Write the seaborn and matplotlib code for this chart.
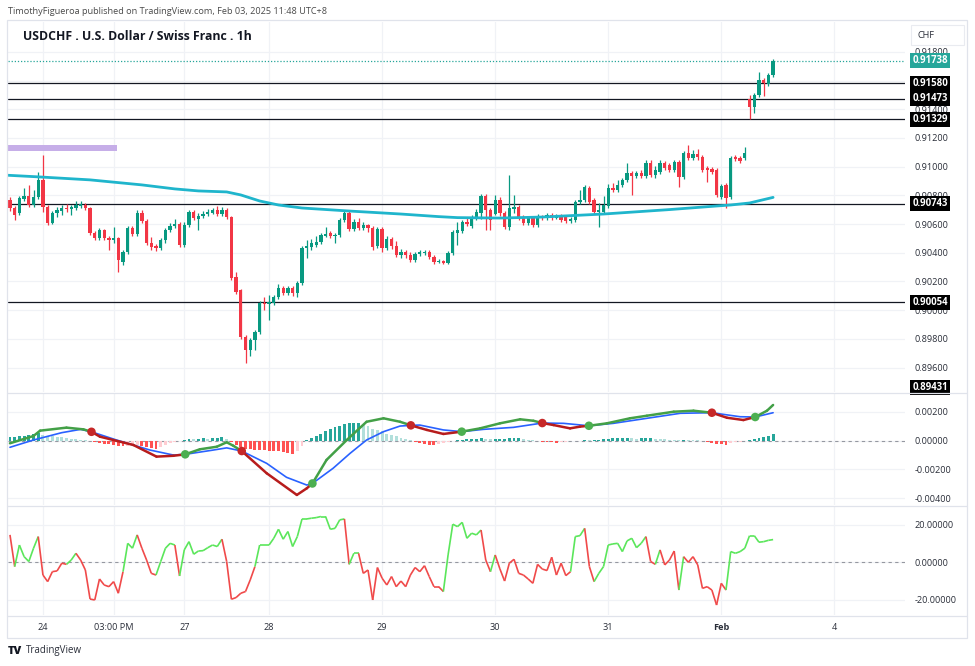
import matplotlib
matplotlib.use("Agg")
import matplotlib.pyplot as plt
from matplotlib.collections import LineCollection
from matplotlib.patches import Rectangle
from matplotlib.lines import Line2D
import numpy as np
import seaborn as sns

sns.set_theme(style="white")
plt.rcParams["font.family"] = ["Open Sans", "DejaVu Sans"]

# ---------------- data (1h bars) ----------------
opens = [
    0.90768, 0.90712, 0.90677, 0.90775, 0.90796, 0.90733, 0.90789, 0.90908, 0.90719, 0.90607,
    0.90677, 0.90691, 0.90712, 0.90705, 0.90712, 0.90726, 0.90733, 0.90712, 0.90537, 0.90502,
    0.90558, 0.90502, 0.90488, 0.90502, 0.90337, 0.90407, 0.90572, 0.90530, 0.90677, 0.90621,
    0.90467, 0.90446, 0.90432, 0.90488, 0.90558, 0.90586, 0.90600, 0.90453, 0.90593, 0.90684,
    0.90635, 0.90656, 0.90670, 0.90677, 0.90698, 0.90670, 0.90698, 0.90649, 0.90232, 0.90141,
    0.89812, 0.89721, 0.89791, 0.89847, 0.90050, 0.90043, 0.90050, 0.90092, 0.90155, 0.90120,
    0.90155, 0.90120, 0.90190, 0.90432, 0.90439, 0.90453, 0.90474, 0.90516, 0.90537, 0.90516,
    0.90523, 0.90628, 0.90677, 0.90565, 0.90614, 0.90572, 0.90593, 0.90572, 0.90446, 0.90565,
    0.90432, 0.90495, 0.90446, 0.90386, 0.90407, 0.90386, 0.90351, 0.90393, 0.90400, 0.90407,
    0.90372, 0.90337, 0.90344, 0.90330, 0.90400, 0.90537, 0.90551, 0.90614, 0.90586, 0.90649,
    0.90677, 0.90796, 0.90698, 0.90670, 0.90768, 0.90677, 0.90579, 0.90705, 0.90719, 0.90649,
    0.90607, 0.90642, 0.90593, 0.90656, 0.90642, 0.90663, 0.90642, 0.90656, 0.90656, 0.90621,
    0.90628, 0.90754, 0.90768, 0.90852, 0.90768, 0.90684, 0.90684, 0.90726, 0.90852, 0.90838,
    0.90873, 0.90908, 0.90957, 0.90936, 0.90957, 0.90936, 0.91027, 0.90943, 0.90964, 0.91027,
    0.91013, 0.90978, 0.91034, 0.90929, 0.91097, 0.91062, 0.91090, 0.91069, 0.90992, 0.90985,
    0.90978, 0.90789, 0.90873, 0.90789, 0.91069, 0.91062, 0.91062, 0.91473, 0.91416, 0.91500,
    0.91605, 0.91577, 0.91640,
]
highs = [
    0.90789, 0.90726, 0.90796, 0.90852, 0.90873, 0.90838, 0.90964, 0.91083, 0.90733, 0.90691,
    0.90719, 0.90733, 0.90740, 0.90733, 0.90761, 0.90761, 0.90747, 0.90719, 0.90551, 0.90572,
    0.90565, 0.90516, 0.90579, 0.90509, 0.90418, 0.90586, 0.90586, 0.90698, 0.90698, 0.90635,
    0.90509, 0.90460, 0.90502, 0.90572, 0.90607, 0.90635, 0.90614, 0.90614, 0.90698, 0.90698,
    0.90677, 0.90691, 0.90705, 0.90712, 0.90726, 0.90719, 0.90712, 0.90656, 0.90267, 0.90148,
    0.89826, 0.89805, 0.89861, 0.90064, 0.90092, 0.90106, 0.90106, 0.90183, 0.90169, 0.90169,
    0.90169, 0.90204, 0.90446, 0.90488, 0.90495, 0.90516, 0.90537, 0.90579, 0.90551, 0.90537,
    0.90642, 0.90691, 0.90691, 0.90635, 0.90642, 0.90614, 0.90600, 0.90586, 0.90579, 0.90579,
    0.90516, 0.90509, 0.90481, 0.90425, 0.90418, 0.90407, 0.90407, 0.90418, 0.90418, 0.90418,
    0.90386, 0.90358, 0.90351, 0.90414, 0.90558, 0.90614, 0.90628, 0.90642, 0.90663, 0.90705,
    0.90810, 0.90810, 0.90712, 0.90803, 0.90789, 0.90691, 0.90943, 0.90803, 0.90733, 0.90663,
    0.90656, 0.90656, 0.90670, 0.90663, 0.90677, 0.90677, 0.90670, 0.90670, 0.90663, 0.90649,
    0.90768, 0.90838, 0.90873, 0.90866, 0.90782, 0.90747, 0.90796, 0.90880, 0.90887, 0.90908,
    0.90922, 0.91027, 0.90971, 0.90971, 0.90978, 0.91048, 0.91048, 0.91006, 0.91048, 0.91041,
    0.91027, 0.91048, 0.91048, 0.91111, 0.91153, 0.91118, 0.91125, 0.91083, 0.91006, 0.90999,
    0.90992, 0.90880, 0.90887, 0.91076, 0.91083, 0.91076, 0.91139, 0.91500, 0.91514, 0.91661,
    0.91619, 0.91654, 0.91752,
]
lows = [
    0.90691, 0.90628, 0.90663, 0.90761, 0.90719, 0.90719, 0.90775, 0.90684, 0.90593, 0.90600,
    0.90649, 0.90663, 0.90684, 0.90663, 0.90698, 0.90712, 0.90698, 0.90523, 0.90488, 0.90488,
    0.90488, 0.90418, 0.90467, 0.90267, 0.90316, 0.90393, 0.90516, 0.90516, 0.90607, 0.90453,
    0.90418, 0.90414, 0.90418, 0.90467, 0.90544, 0.90572, 0.90439, 0.90439, 0.90579, 0.90628,
    0.90558, 0.90642, 0.90656, 0.90670, 0.90656, 0.90656, 0.90635, 0.90211, 0.90113, 0.89798,
    0.89630, 0.89679, 0.89721, 0.89833, 0.90001, 0.89931, 0.90036, 0.90078, 0.90106, 0.90106,
    0.90099, 0.90092, 0.90176, 0.90365, 0.90418, 0.90439, 0.90460, 0.90509, 0.90502, 0.90467,
    0.90509, 0.90614, 0.90551, 0.90551, 0.90558, 0.90558, 0.90544, 0.90418, 0.90432, 0.90407,
    0.90418, 0.90425, 0.90372, 0.90365, 0.90365, 0.90337, 0.90337, 0.90379, 0.90386, 0.90358,
    0.90323, 0.90330, 0.90323, 0.90323, 0.90386, 0.90453, 0.90537, 0.90586, 0.90572, 0.90628,
    0.90635, 0.90558, 0.90558, 0.90663, 0.90656, 0.90565, 0.90558, 0.90677, 0.90628, 0.90593,
    0.90593, 0.90579, 0.90579, 0.90628, 0.90628, 0.90628, 0.90635, 0.90614, 0.90607, 0.90607,
    0.90614, 0.90740, 0.90754, 0.90740, 0.90670, 0.90579, 0.90670, 0.90712, 0.90824, 0.90824,
    0.90859, 0.90894, 0.90803, 0.90922, 0.90922, 0.90922, 0.90929, 0.90922, 0.90950, 0.90978,
    0.90964, 0.90964, 0.90859, 0.90915, 0.91048, 0.91048, 0.91048, 0.90964, 0.90894, 0.90950,
    0.90789, 0.90775, 0.90712, 0.90775, 0.91041, 0.91027, 0.91048, 0.91329, 0.91374, 0.91486,
    0.91493, 0.91563, 0.91626,
]
closes = [
    0.90712, 0.90663, 0.90782, 0.90796, 0.90733, 0.90789, 0.90908, 0.90719, 0.90607, 0.90677,
    0.90698, 0.90712, 0.90705, 0.90719, 0.90733, 0.90740, 0.90712, 0.90537, 0.90502, 0.90558,
    0.90502, 0.90488, 0.90502, 0.90351, 0.90407, 0.90572, 0.90530, 0.90677, 0.90621, 0.90467,
    0.90439, 0.90432, 0.90488, 0.90558, 0.90586, 0.90600, 0.90453, 0.90593, 0.90684, 0.90642,
    0.90656, 0.90670, 0.90684, 0.90698, 0.90670, 0.90698, 0.90649, 0.90225, 0.90127, 0.89812,
    0.89721, 0.89791, 0.89847, 0.90050, 0.90043, 0.90057, 0.90092, 0.90155, 0.90120, 0.90155,
    0.90120, 0.90190, 0.90432, 0.90446, 0.90467, 0.90474, 0.90523, 0.90530, 0.90516, 0.90523,
    0.90628, 0.90677, 0.90565, 0.90614, 0.90572, 0.90593, 0.90572, 0.90439, 0.90565, 0.90432,
    0.90495, 0.90446, 0.90386, 0.90407, 0.90386, 0.90351, 0.90393, 0.90407, 0.90407, 0.90372,
    0.90337, 0.90344, 0.90330, 0.90400, 0.90544, 0.90558, 0.90614, 0.90600, 0.90649, 0.90684,
    0.90796, 0.90698, 0.90628, 0.90768, 0.90677, 0.90579, 0.90712, 0.90719, 0.90642, 0.90607,
    0.90642, 0.90593, 0.90656, 0.90642, 0.90663, 0.90642, 0.90656, 0.90628, 0.90621, 0.90635,
    0.90754, 0.90768, 0.90859, 0.90754, 0.90684, 0.90698, 0.90733, 0.90852, 0.90838, 0.90873,
    0.90908, 0.90957, 0.90936, 0.90957, 0.90936, 0.91027, 0.90943, 0.90978, 0.91027, 0.90992,
    0.90978, 0.91034, 0.90929, 0.91097, 0.91062, 0.91090, 0.91069, 0.90978, 0.90978, 0.90964,
    0.90803, 0.90866, 0.90782, 0.91062, 0.91055, 0.91041, 0.91097, 0.91416, 0.91500, 0.91605,
    0.91584, 0.91640, 0.91738,
]

# moving average (knots along the cyan curve)
ma_idx = [-0.4, 6, 17, 28, 35, 40, 46, 49, 53, 57, 62, 72, 83, 91, 95, 104, 113, 126, 140, 150, 153, 157, 162]
ma_val = [0.90940, 0.90929, 0.90908, 0.90873, 0.90845, 0.90831, 0.90824, 0.90803, 0.90761, 0.90733,
          0.90712, 0.90691, 0.90670, 0.90652, 0.90645, 0.90642, 0.90649, 0.90670, 0.90701, 0.90726,
          0.90733, 0.90747, 0.90786]

# horizontal levels drawn on the chart
levels = [0.91580, 0.91473, 0.91329, 0.90743, 0.90054]
edge_level = 0.89431
last_price = 0.91738
zone_bars = (-0.4, 22.8)
zone_prices = (0.91108, 0.91150)

# MACD pane
macd_idx = [0, 5, 6.4, 12, 15.6, 17.3, 19.1, 26.2, 31.1, 34.7, 37.2, 40.3, 43.9, 46, 47.4, 49.2,
            54.5, 60.9, 63, 64.2, 67.2, 71.5, 75.7, 79.3, 82.8, 85.1, 88.5, 92, 95.9, 99.8, 104,
            108.3, 111.1, 113, 115.4, 118.9, 121, 122.9, 126.7, 131.6, 135.2, 140.9, 145.1, 149,
            152.2, 155.7, 158.2, 160.7, 162]
macd_val = [-0.00018, 0.00033, 0.00070, 0.00091, 0.00079, 0.00062, 0.00028, -0.00030, -0.00111,
            -0.00105, -0.00095, -0.00060, -0.00042, -0.00011, -0.00035, -0.00072, -0.00227, -0.00378,
            -0.00332, -0.00298, -0.00134, 0.00005, 0.00132, 0.00156, 0.00132, 0.00107, 0.00075,
            0.00047, 0.00063, 0.00086, 0.00121, 0.00149, 0.00139, 0.00123, 0.00109, 0.00086, 0.00098,
            0.00104, 0.00121, 0.00156, 0.00174, 0.00202, 0.00209, 0.00195, 0.00160, 0.00144, 0.00165,
            0.00209, 0.00249]
sig_idx = [0, 5, 11, 15, 17.3, 22.6, 29.7, 34.7, 37.2, 43.2, 46, 49.2, 54.5, 58.7, 63, 64.2, 68.6,
           72.2, 75.7, 79.3, 82.8, 85.1, 87, 92, 95.9, 100.5, 106.9, 113, 117.5, 122.9, 128.1,
           135.2, 142.3, 149, 155, 158.2, 162]
sig_val = [-0.00046, 0.00005, 0.00056, 0.00079, 0.00062, 0.00005, -0.00065, -0.00100, -0.00095,
           -0.00065, -0.00050, -0.00072, -0.00158, -0.00255, -0.00309, -0.00298, -0.00192, -0.00088,
           0.00005, 0.00063, 0.00102, 0.00107, 0.00109, 0.00075, 0.00063, 0.00079, 0.00093, 0.00123,
           0.00121, 0.00104, 0.00121, 0.00156, 0.00191, 0.00195, 0.00167, 0.00165, 0.00195]
cross_idx = [17.3, 37.2, 49.2, 64.2, 85.1, 95.9, 113, 122.9, 149, 158.2]
cross_val = [0.00062, -0.00095, -0.00072, -0.00298, 0.00107, 0.00063, 0.00123, 0.00104, 0.00195, 0.00165]
cross_kind = ["dn", "up", "dn", "up", "dn", "up", "dn", "up", "dn", "up"]
hist = [
    0.00025, 0.00028, 0.00030, 0.00033, 0.00038, 0.00045, 0.00052, 0.00040, 0.00033, 0.00030,
    0.00028, 0.00025, 0.00020, 0.00015, 0.00010, 0.00006, 0.00002, -0.00005, -0.00010, -0.00015,
    -0.00020, -0.00025, -0.00028, -0.00035, -0.00038, -0.00035, -0.00033, -0.00030, -0.00038, -0.00045,
    -0.00050, -0.00055, -0.00045, -0.00030, -0.00018, -0.00010, -0.00005, 0.00002, 0.00012, 0.00010,
    0.00015, 0.00018, 0.00015, 0.00020, 0.00022, 0.00028, 0.00015, -0.00010, -0.00030, -0.00045,
    -0.00055, -0.00060, -0.00062, -0.00062, -0.00066, -0.00070, -0.00072, -0.00075, -0.00080, -0.00085,
    -0.00090, -0.00070, -0.00040, 0.00005, 0.00020, 0.00035, 0.00050, 0.00065, 0.00080, 0.00092,
    0.00105, 0.00115, 0.00120, 0.00122, 0.00123, 0.00110, 0.00100, 0.00085, 0.00075, 0.00065,
    0.00050, 0.00040, 0.00030, 0.00020, 0.00010, 0.00002, -0.00008, -0.00015, -0.00022, -0.00028,
    -0.00030, -0.00025, -0.00018, -0.00010, -0.00005, 0.00002, 0.00006, 0.00010, 0.00012, 0.00014,
    0.00016, 0.00012, 0.00010, 0.00012, 0.00014, 0.00015, 0.00017, 0.00018, 0.00019, 0.00015,
    0.00008, 0.00002, -0.00003, -0.00006, -0.00010, -0.00012, -0.00015, -0.00012, -0.00008, -0.00005,
    -0.00002, 0.00001, 0.00003, 0.00002, 0.00005, 0.00008, 0.00011, 0.00014, 0.00016, 0.00018,
    0.00020, 0.00022, 0.00018, 0.00015, 0.00016, 0.00018, 0.00020, 0.00014, 0.00012, 0.00009,
    0.00007, 0.00005, 0.00003, 0.00005, 0.00004, 0.00003, 0.00002, -0.00005, -0.00010, -0.00015,
    -0.00020, -0.00025, -0.00028, -0.00018, -0.00012, -0.00006, -0.00002, 0.00005, 0.00012, 0.00018,
    0.00024, 0.00030, 0.00045,
]

# lower oscillator pane
osc = [
    14.6, -2.3, 9.2, 3.0, 0.4, 7.5, 13.7, -6.8, -10.3, -5.0,
    -4.6, -0.5, -1.1, 1.2, 4.8, 1.2, -4.1, -19.6, -20.1, -8.9,
    -12.1, -13.0, -10.3, -16.5, -5.0, 10.1, 7.5, 14.6, 7.5, 1.2,
    -5.9, -6.8, 0.4, 7.5, 10.1, 9.2, -7.3, 6.6, 11.0, 4.3,
    6.0, 6.2, 7.8, 9.2, 8.4, 12.3, 0.4, -19.7, -18.8, -16.5,
    -15.6, -9.4, -2.3, 9.2, 9.2, 9.2, 12.8, 17.6, 12.3, 16.4,
    8.4, 13.7, 23.1, 23.1, 23.5, 23.8, 24.4, 24.4, 17.6, 18.1,
    22.6, 23.1, -1.1, 4.8, 4.8, -5.9, -4.1, -20.1, -2.8, -8.5,
    -12.1, -7.6, -13.0, -10.0, -13.0, -6.8, -2.8, -5.0, -1.8, -7.6,
    -13.0, -13.0, -15.6, 3.9, 20.3, 19.0, 21.3, 12.8, 15.5, 14.6,
    17.2, 1.2, -5.0, 3.9, -3.5, -10.0, -0.5, 1.6, -5.9, -6.8,
    -8.9, -11.2, -1.1, -3.6, -4.4, 2.7, -6.8, -0.5, -7.1, -5.0,
    13.7, 14.2, 18.1, -2.3, -10.3, -5.9, -2.3, 9.2, 9.8, 10.1,
    5.7, 11.4, 12.8, 7.8, 10.1, 13.7, 0.4, -1.1, 6.6, -1.4,
    1.2, 6.0, -14.8, 3.0, 0.0, 3.0, -1.4, -13.9, -13.0, -14.8,
    -22.8, -11.2, -14.8, 5.7, 4.8, 5.7, 7.5, 14.2, 14.2, 10.7,
    11.0, 11.7, 12.1,
]
osc_state = ("grgggggrrr" "rrrggrrrrr" "rrrrrgggrr" "rrggggrggg" "ggggggrrrr"
             "rrrggggggg" "gggggggggg" "ggrggrrrrr" "rrrrrrrrrr" "rrrggggggg"
             "grrgrrrrrr" "rrrrrrrrrr" "gggrrggggg" "ggggggrrgr" "rrrgrrrrrr"
             "rrrggggggg" "ggg")

# time axis
date_idx = [7, 22, 37, 55, 79, 103, 127, 151, 175]
date_lbl = ["24", "03:00 PM", "27", "28", "29", "30", "31", "Feb", "4"]

# ---------------- styling ----------------
UP, DN = "#089981", "#F23645"
GRID = "#F0F2F6"
FRAME = "#E0E3EB"
TXT = "#131722"
W, H = 975, 666
XL = (-0.42, 190.0)


def box(y0, y1, x0=8, x1=905):
    return [x0 / W, 1 - y1 / H, (x1 - x0) / W, (y1 - y0) / H]


fig = plt.figure(figsize=(9.75, 6.66), dpi=100, facecolor="white")
ax_p = fig.add_axes(box(22, 392))
ax_m = fig.add_axes(box(393, 505))
ax_o = fig.add_axes(box(506, 615))

for ax in (ax_p, ax_m, ax_o):
    ax.set_xlim(*XL)
    for s in ax.spines.values():
        s.set_visible(False)
    ax.yaxis.tick_right()
    ax.tick_params(axis="y", length=0, pad=7, labelsize=6.6, labelcolor="#2a2e39")
    ax.tick_params(axis="x", length=0)
    ax.set_xticks(date_idx)
    ax.grid(True, color=GRID, lw=0.9)
    ax.set_axisbelow(True)

ax_p.set_xticklabels([])
ax_m.set_xticklabels([])
ax_o.set_xticklabels(date_lbl)
ax_o.tick_params(axis="x", pad=6, labelsize=6.6, labelcolor="#2a2e39")
for t in ax_o.get_xticklabels():
    if t.get_text() == "Feb":
        t.set_fontweight("bold")

# ---------------- price pane ----------------
x = np.arange(len(closes))
o, h, l, c = map(np.array, (opens, highs, lows, closes))
col = np.where(c >= o, UP, DN)
ax_p.vlines(x, l, h, colors=col, lw=0.9, zorder=3)
ax_p.bar(x, np.maximum(np.abs(c - o), 0.000015), bottom=np.minimum(o, c),
         width=0.7, color=col, lw=0, zorder=4)

sns.lineplot(x=ma_idx, y=ma_val, ax=ax_p, color="#1FB5CC", lw=2.0, zorder=5)

ax_p.add_patch(Rectangle((zone_bars[0], zone_prices[0]), zone_bars[1] - zone_bars[0],
                         zone_prices[1] - zone_prices[0], color="#C6AEE8", lw=0, zorder=2))
for lv in levels:
    ax_p.axhline(lv, color=TXT, lw=0.9, zorder=2)
ax_p.axhline(last_price, color="#26A69A", lw=0.9, ls=(0, (1, 1.5)), zorder=2)

ax_p.set_ylim(0.89430, 0.92008)
ax_p.set_yticks(np.round(np.arange(0.896, 0.9181, 0.002), 3))
ax_p.set_yticklabels([f"{v:.5f}" for v in ax_p.get_yticks()])

ytr = ax_p.get_yaxis_transform()


def price_tag(val, fc, dy=0):
    ax_p.annotate(f"{val:.5f}", xy=(1, val), xycoords=ytr, xytext=(5.2, dy),
                  textcoords="offset points", ha="left", va="center", fontsize=6.9,
                  fontweight="bold", color="white", zorder=10, annotation_clip=False,
                  bbox=dict(boxstyle="square,pad=0.22", fc=fc, ec="none"))


for lv in levels:
    price_tag(lv, "black")
price_tag(edge_level, "black", dy=3)
price_tag(last_price, "#26A69A")

# ---------------- MACD pane ----------------
hcol = []
for i, v in enumerate(hist):
    prev = hist[i - 1] if i else v
    if v >= 0:
        hcol.append("#26A69A" if v >= prev else "#B2DFDB")
    else:
        hcol.append("#FF5252" if v <= prev else "#FFCDD2")
ax_m.bar(x, hist, width=0.62, color=hcol, lw=0, zorder=2)
ax_m.axhline(0, color="#9598A1", lw=0.8, ls=(0, (3, 3)), zorder=1)

sns.lineplot(x=sig_idx, y=sig_val, ax=ax_m, color="#2962FF", lw=1.2, zorder=3)

segs, scol = [], []
state = "up"
for k in range(len(macd_idx) - 1):
    if macd_idx[k] in cross_idx:
        state = cross_kind[cross_idx.index(macd_idx[k])]
    segs.append([(macd_idx[k], macd_val[k]), (macd_idx[k + 1], macd_val[k + 1])])
    scol.append("#43A047" if state == "up" else "#B71C1C")
ax_m.add_collection(LineCollection(segs, colors=scol, lw=1.8, zorder=4, capstyle="round"))
ax_m.scatter(cross_idx, cross_val, s=38, zorder=5, lw=0,
             c=["#4CAF50" if k == "up" else "#C62828" for k in cross_kind])

ax_m.set_ylim(-0.004481, 0.003324)
ax_m.set_yticks([0.002, 0.0, -0.002, -0.004])
ax_m.set_yticklabels(["0.00200", "0.00000", "-0.00200", "-0.00400"])

# ---------------- oscillator pane ----------------
osegs = [[(i - 1, osc[i - 1]), (i, osc[i])] for i in range(1, len(osc))]
ocol = ["#5BE65B" if s == "g" else "#F04A4A" for s in osc_state[1:]]
ax_o.add_collection(LineCollection(osegs, colors=ocol, lw=1.2, zorder=3))
ax_o.axhline(0, color="#9598A1", lw=0.8, ls=(0, (3, 3)), zorder=1)
ax_o.set_ylim(-28.1, 30.0)
ax_o.set_yticks([20, 0, -20])
ax_o.set_yticklabels(["20.00000", "0.00000", "-20.00000"])

# ---------------- frame & texts ----------------
fig.add_artist(Rectangle((7 / W, 1 - 638 / H), 960 / W, 618 / H, transform=fig.transFigure,
                         fill=False, ec=FRAME, lw=0.9))
for yy in (392.5, 505.5, 615.5):
    fig.add_artist(Line2D([7 / W, 967 / W], [1 - yy / H] * 2, transform=fig.transFigure,
                          color=FRAME, lw=0.9))
fig.add_artist(Rectangle((911 / W, 1 - 45 / H), 53 / W, 20 / H, transform=fig.transFigure,
                         fc="white", ec="#E9EBF0", lw=0.8))

fig.text(8 / W, 1 - 12 / H, "TimothyFigueroa published on TradingView.com, Feb 03, 2025 11:48 UTC+8",
         fontsize=6.6, color="#4a4a4a", va="center")
fig.text(23 / W, 1 - 37 / H, "USDCHF . U.S. Dollar / Swiss Franc . 1h", fontsize=8.8,
         fontweight="bold", color=TXT, va="center")
fig.text(918 / W, 1 - 35.5 / H, "CHF", fontsize=6.6, color="#2a2e39", va="center")
fig.text(8 / W, 1 - 651 / H, "TV", fontsize=8, fontweight="heavy", color=TXT, va="center")
fig.text(26 / W, 1 - 651 / H, "TradingView", fontsize=7, color="#2a2e39", va="center")

fig.savefig("out.png", dpi=100, facecolor="white")
